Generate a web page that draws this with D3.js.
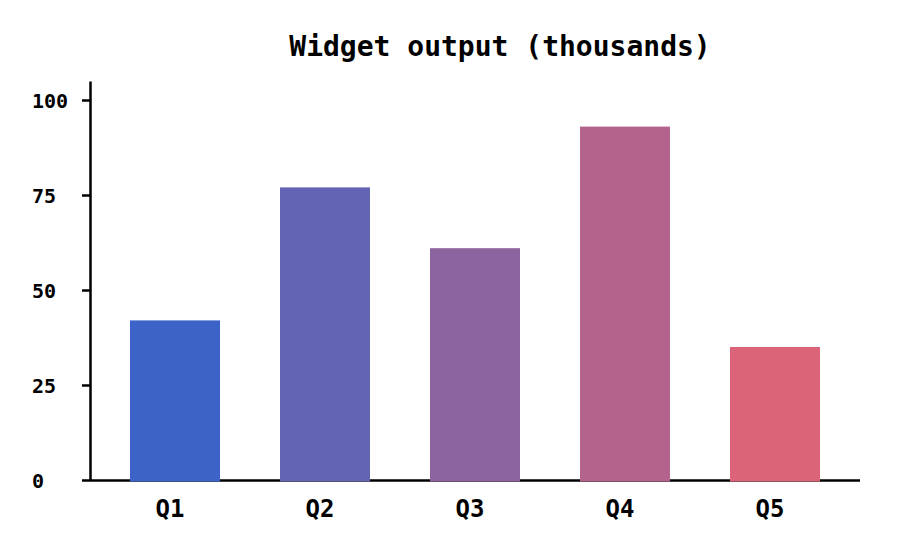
<!DOCTYPE html>
<html>
<head>
<meta charset="utf-8">
<script src="https://cdn.jsdelivr.net/npm/d3@7"></script>
<style>
    body { margin: 0; background: #fff; }
    text { font-family: "DejaVu Sans Mono", monospace; font-weight: bold; }
</style>
</head>
<body>
<svg id="chart" width="900" height="560"></svg>
<script>
var categories = ["Q1", "Q2", "Q3", "Q4", "Q5"];
var values = [42, 77, 61, 93, 35];
var colors = ["#3c64c8", "#6464b4", "#8c64a0", "#b4648c", "#dc6478"];
var y_ticks = [0, 25, 50, 75, 100];
var title = "Widget output (thousands)";

var margin = {top: 81, right: 40, bottom: 80, left: 90};
var width = 900, height = 560;
var svg = d3.select("#chart");

var x = d3.scaleBand()
    .domain(categories)
    .range([margin.left + 10, width - margin.right - 10])
    .paddingInner(0.4)
    .paddingOuter(0.2);

var y = d3.scaleLinear()
    .domain([0, 105])
    .range([height - margin.bottom, margin.top]);

// title
svg.append("text")
    .attr("x", 500)
    .attr("y", 56)
    .attr("text-anchor", "middle")
    .style("font-size", "28px")
    .attr("fill", "#000")
    .text(title);

// y axis
var yAxis = svg.append("g")
    .attr("transform", "translate(" + margin.left + ",0)")
    .call(d3.axisLeft(y).tickValues(y_ticks).tickSize(8).tickSizeOuter(0));
yAxis.select(".domain").attr("stroke", "#000").attr("stroke-width", 2.5);
yAxis.selectAll(".tick line").attr("stroke", "#000").attr("stroke-width", 2.5);
yAxis.selectAll(".tick text")
    .attr("x", 32 - margin.left)
    .attr("dy", "0.35em")
    .attr("text-anchor", "start")
    .attr("fill", "#000")
    .style("font-size", "20px")
    .style("font-family", "'DejaVu Sans Mono', monospace");

// x axis line
svg.append("line")
    .attr("x1", margin.left)
    .attr("x2", width - margin.right)
    .attr("y1", y(0) + 0.5)
    .attr("y2", y(0) + 0.5)
    .attr("stroke", "#000")
    .attr("stroke-width", 2.5);

// bars
svg.selectAll("rect.bar")
    .data(values)
    .enter()
    .append("rect")
    .attr("class", "bar")
    .attr("x", function (d, i) { return x(categories[i]); })
    .attr("y", function (d) { return y(d); })
    .attr("width", x.bandwidth())
    .attr("height", function (d) { return y(0) - y(d) + 1.5; })
    .attr("fill", function (d, i) { return colors[i]; });

// x labels
svg.selectAll("text.xlabel")
    .data(categories)
    .enter()
    .append("text")
    .attr("class", "xlabel")
    .attr("x", function (d) { return x(d) + x.bandwidth() / 2 - 5; })
    .attr("y", 517)
    .attr("text-anchor", "middle")
    .style("font-size", "24px")
    .attr("fill", "#000")
    .text(function (d) { return d; });
</script>
</body>
</html>
